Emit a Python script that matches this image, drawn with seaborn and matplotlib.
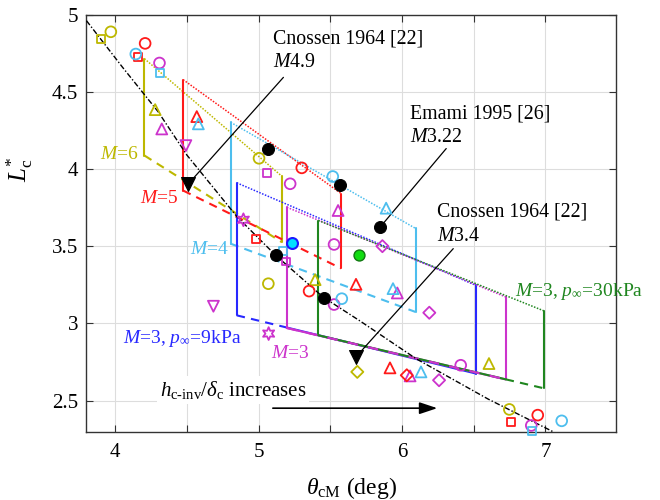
import numpy as np
import pandas as pd
import matplotlib
matplotlib.use("Agg")
import matplotlib.pyplot as plt
import seaborn as sns

# ---------------- data ----------------
# colour keys
palette = {
    "olive": "#BDB800",
    "red": "#FF1A1A",
    "sky": "#4DBEEE",
    "magenta": "#CC33CC",
    "blue": "#2828FF",
    "green": "#1F861F",
}

# operating-envelope families (left/right edge, top and bottom line ends)
fam_color = ["olive", "red", "sky", "blue", "magenta", "green"]
fam_x_lo = [4.204, 4.474, 4.805, 4.848, 5.197, 5.417]
fam_x_hi = [5.162, 5.575, 6.094, 6.516, 6.723, 6.992]
fam_top_lo = [4.714, 4.578, 4.302, 3.910, 3.752, 3.666]
fam_top_hi = [3.953, 3.841, 3.615, 3.246, 3.171, 3.080]
fam_bot_lo = [4.087, 3.860, 3.516, 3.052, 2.970, 2.923]
fam_bot_hi = [3.526, 3.356, 3.074, 2.675, 2.637, 2.579]
# solid part of the bottom line (None -> whole bottom line dashed)
fam_solid_from = [None, None, None, 5.197, 5.197, 5.417]
fam_solid_to = [None, None, None, 6.516, 6.723, 6.723]

# correlation curve
curve_x = [3.80, 4.05, 4.30, 4.50, 4.85, 5.12, 5.45, 5.70, 6.10, 6.60, 7.05]
curve_y = [4.96, 4.66, 4.37, 4.09, 3.69, 3.44, 3.17, 3.02, 2.77, 2.51, 2.30]

# open symbols: x, y, marker per colour
olive_x = [3.902, 3.970, 4.279, 5.003, 5.068, 5.394, 5.688, 6.606, 6.748]
olive_y = [4.841, 4.888, 4.384, 4.069, 3.257, 3.283, 2.686, 2.740, 2.443]
olive_m = ["s", "o", "^", "o", "o", "^", "D", "^", "o"]

red_x = [4.209, 4.162, 4.569, 5.301, 4.983, 5.352, 5.679, 5.916, 6.033, 6.760, 6.946]
red_y = [4.813, 4.727, 4.339, 4.007, 3.548, 3.209, 3.253, 2.712, 2.664, 2.363, 2.406]
red_m = ["o", "s", "^", "o", "s", "o", "^", "^", "D", "s", "o"]

sky_x = [4.144, 4.314, 4.580, 5.517, 5.889, 5.171, 5.580, 5.937, 6.132, 6.908, 7.113]
sky_y = [4.744, 4.621, 4.292, 3.951, 3.746, 3.466, 3.160, 3.225, 2.686, 2.304, 2.369]
sky_m = ["o", "s", "^", "o", "^", "s", "o", "^", "^", "s", "o"]

mag_x = [4.309, 4.325, 4.493, 5.061, 5.220, 5.554, 5.526, 5.863, 4.894, 5.192,
         4.685, 5.070, 5.526, 5.967, 6.190, 6.056, 6.258, 6.409, 6.901]
mag_y = [4.686, 4.259, 4.151, 3.975, 3.904, 3.731, 3.511, 3.500, 3.671, 3.401,
         3.111, 2.934, 3.122, 3.197, 3.069, 2.660, 2.632, 2.729, 2.339]
mag_m = ["o", "^", "v", "s", "o", "^", "o", "D", "star", "s",
         "v", "star", "o", "^", "D", "^", "D", "o", "o"]

# experiments (filled symbols)
exp_circle_x = [5.068, 5.568, 5.847, 5.122, 5.456]
exp_circle_y = [4.130, 3.897, 3.623, 3.440, 3.164]
exp_tri_x = [4.511, 5.679]
exp_tri_y = [3.904, 2.783]
green_pt = (5.702, 3.445)
cyan_pt = (5.231, 3.522)

x_ticks = [4, 4.5, 5, 5.5, 6, 6.5, 7]
x_tick_labels = ["4", "", "5", "", "6", "", "7"]
y_ticks = [2.5, 3, 3.5, 4, 4.5, 5]
y_tick_labels = ["2.5", "3", "3.5", "4", "4.5", "5"]

# ---------------- style ----------------
sns.set_theme(style="ticks")
plt.rcParams["font.family"] = ["Liberation Serif", "DejaVu Serif"]
plt.rcParams["mathtext.fontset"] = "custom"
plt.rcParams["mathtext.rm"] = "Liberation Serif"
plt.rcParams["mathtext.it"] = "Liberation Serif:italic"
plt.rcParams["mathtext.bf"] = "Liberation Serif:bold"
plt.rcParams["text.color"] = "black"
plt.rcParams["axes.labelcolor"] = "black"

fig = plt.figure(figsize=(6.6, 5.0), dpi=100)
ax = fig.add_axes([0.131, 0.137, 0.802, 0.834])

ax.set_xlim(3.8, 7.49)
ax.set_ylim(2.3, 5.0)
ax.set_xticks(x_ticks)
ax.set_xticklabels(x_tick_labels)
ax.set_yticks(y_ticks)
ax.set_yticklabels(y_tick_labels)
ax.tick_params(direction="in", top=True, right=True, length=5, width=0.8,
               labelsize=15, color="#333333", labelcolor="black")
ax.tick_params(axis="x", pad=8)
ax.tick_params(axis="y", pad=6)
ax.grid(True, color="#dddddd", lw=0.8)
ax.set_axisbelow(True)
for sp in ax.spines.values():
    sp.set_color("#333333")
    sp.set_linewidth(1.0)

# ---------------- envelopes ----------------
for c, xl, xh, tl, th, bl, bh, sf, st in zip(fam_color, fam_x_lo, fam_x_hi,
                                              fam_top_lo, fam_top_hi,
                                              fam_bot_lo, fam_bot_hi,
                                              fam_solid_from, fam_solid_to):
    col = palette[c]
    ax.plot([xl, xl], [bl, tl], color=col, lw=1.5, zorder=3)
    ax.plot([xh, xh], [bh, th], color=col, lw=1.5, zorder=3)
    ax.plot([xl, xh], [tl, th], color=col, lw=1.1, ls=(0, (1, 1)), zorder=3)
    bot = lambda xx: np.interp(xx, [xl, xh], [bl, bh])
    if sf is None:
        ax.plot([xl, xh], [bl, bh], color=col, lw=1.5, ls=(0, (4, 3)), zorder=3)
    else:
        if sf > xl:
            ax.plot([xl, sf], [bl, bot(sf)], color=col, lw=1.5, ls=(0, (4, 3)), zorder=3)
        ax.plot([sf, st], [bot(sf), bot(st)], color=col, lw=1.5, zorder=3)
        if st < xh:
            ax.plot([st, xh], [bot(st), bh], color=col, lw=1.5, ls=(0, (4, 3)), zorder=3)

# shared bottom edge of the M=3 families drawn with interleaved colours
ax.plot([5.197, 6.723], [2.970, 2.637], color=palette["magenta"], lw=1.5,
        ls=(0, (5, 5)), zorder=3.1)

# correlation curve
sns.lineplot(x=curve_x, y=curve_y, ax=ax, color="black", lw=1.0,
             sort=False, estimator=None, zorder=3.5)
ax.lines[-1].set_linestyle((0, (4, 1.5, 1, 1.5)))

# ---------------- symbols ----------------
star = (6, 1, 0)
groups = [("olive", olive_x, olive_y, olive_m), ("red", red_x, red_y, red_m),
          ("sky", sky_x, sky_y, sky_m), ("magenta", mag_x, mag_y, mag_m)]
sizes = {"o": 60, "s": 32, "^": 62, "v": 62, "D": 38, "star": 85}
rows = []
for key, xs, ys, ms in groups:
    for xv, yv, mv in zip(xs, ys, ms):
        rows.append({"x": xv, "y": yv, "col": key, "mk": mv})
df = pd.DataFrame(rows)
for (key, mk), sub in df.groupby(["col", "mk"]):
    sns.scatterplot(data=sub, x="x", y="y", ax=ax, color=palette[key],
                    marker=star if mk == "star" else mk, s=sizes[mk],
                    facecolor="none", edgecolor=palette[key], linewidth=1.3,
                    zorder=5, clip_on=False)

sns.scatterplot(x=exp_circle_x, y=exp_circle_y, ax=ax, color="black", marker="o",
                s=75, edgecolor="black", zorder=6)
sns.scatterplot(x=exp_tri_x, y=exp_tri_y, ax=ax, color="black", marker="v",
                s=100, edgecolor="black", zorder=6)
sns.scatterplot(x=[green_pt[0]], y=[green_pt[1]], ax=ax, color="#11DD11", marker="o",
                s=62, edgecolor="#117711", linewidth=1.0, zorder=6)
sns.scatterplot(x=[cyan_pt[0]], y=[cyan_pt[1]], ax=ax, color="#00E0FF", marker="o",
                s=62, edgecolor="#1A1AFF", linewidth=1.5, zorder=6)

# ---------------- annotations ----------------
fs = 14.3
def note(x0, y0, x1, y1, tx, ty, line1, line2):
    ax.plot([x0, x1], [y0, y1], color="black", lw=0.9, zorder=4)
    ax.text(tx, ty, line1, fontsize=fs, va="center", ha="left", zorder=7)
    ax.text(tx, ty - 0.155, line2, fontsize=fs, va="center", ha="left", zorder=7)

note(5.173, 4.593, 4.511, 3.904, 5.099, 4.843, "Cnossen 1964 [22]", "$M$4.9")
note(6.308, 4.132, 5.847, 3.623, 6.056, 4.356, "Emami 1995 [26]", "$M$3.22")
note(6.357, 3.484, 5.679, 2.783, 6.242, 3.720, "Cnossen 1964 [22]", "$M$3.4")

lab_fs = 14
ax.text(3.895, 4.093, "$M$=6", color=palette["olive"], fontsize=lab_fs, va="center")
ax.text(4.174, 3.809, "$M$=5", color=palette["red"], fontsize=lab_fs, va="center")
ax.text(4.523, 3.479, "$M$=4", color=palette["sky"], fontsize=lab_fs, va="center")
ax.text(4.058, 2.902, r"$M$=3, $p_\infty$=9kPa", color=palette["blue"],
        fontsize=lab_fs, va="center")
ax.text(5.085, 2.805, "$M$=3", color=palette["magenta"], fontsize=lab_fs, va="center")
ax.text(6.787, 3.209, r"$M$=3, $p_\infty$=30kPa", color=palette["green"],
        fontsize=lab_fs, va="center", clip_on=False)

ax.text(4.314, 2.531, r"$h_{\mathrm{c}\text{-}\mathrm{inv}}/\delta_{\mathrm{c}}$ increases",
        fontsize=15, va="baseline", ha="left", zorder=7,
        bbox=dict(facecolor="white", edgecolor="none", pad=2))
ax.annotate("", xy=(6.265, 2.451), xytext=(5.08, 2.451),
            arrowprops=dict(arrowstyle="-|>,head_length=0.9,head_width=0.3",
                            color="black", lw=1.2), zorder=7)

ax.set_xlabel(r"$\theta_{\mathrm{cM}}$ (deg)", fontsize=17)
ax.set_ylabel(r"$L^{*}_{\mathrm{c}}$", fontsize=18)
ax.xaxis.set_label_coords(0.5, -0.105)
ax.yaxis.set_label_coords(-0.098, 0.63)

fig.savefig("out.png", dpi=100)
